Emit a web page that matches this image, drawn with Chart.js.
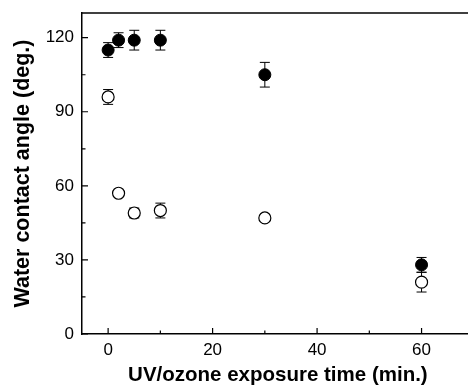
<!DOCTYPE html>
<html>
<head>
<meta charset="utf-8">
<script src="https://cdn.jsdelivr.net/npm/chart.js@4.4.1/dist/chart.umd.min.js"></script>
<style>
  html, body { margin: 0; padding: 0; background: #fff; overflow: hidden; }
  #wrap { width: 468px; height: 388px; overflow: hidden; }
</style>
</head>
<body>
<div id="wrap"><canvas id="c" width="481" height="388"></canvas></div>
<script>
// UV/ozone exposure time (min.)
const times = [0, 2, 5, 10, 30, 60];
// filled circles
const filledAngle = [115, 119, 119, 119, 105, 28];
const filledErr = [3, 3, 4, 4, 5, 3];
// open circles
const openAngle = [96, 57, 49, 50, 47, 21];
const openErr = [3, 0, 2, 3, 0, 4];

const xMajor = [0, 20, 40, 60];
const xMinor = [10, 30, 50];
const yMajor = [0, 30, 60, 90, 120];
const yMinor = [15, 45, 75, 105];

const FONT = "'Liberation Sans', Arial, Helvetica, sans-serif";

// vertical error bars, drawn behind the markers
const errorBars = {
  id: "errorBars",
  beforeDatasetsDraw(chart) {
    const { ctx, scales: { x, y } } = chart;
    ctx.save();
    ctx.strokeStyle = "#000";
    ctx.lineWidth = 1;
    chart.data.datasets.forEach((ds) => {
      ds.data.forEach((p, i) => {
        const e = ds.errors[i];
        if (!e) return;
        const px = x.getPixelForValue(p.x);
        const top = y.getPixelForValue(p.y + e);
        const bot = y.getPixelForValue(p.y - e);
        ctx.beginPath();
        ctx.moveTo(px, top); ctx.lineTo(px, bot);
        ctx.moveTo(px - 5, top); ctx.lineTo(px + 5, top);
        ctx.moveTo(px - 5, bot); ctx.lineTo(px + 5, bot);
        ctx.stroke();
      });
    });
    ctx.restore();
  },
};

// inward tick marks and top frame line
const frame = {
  id: "frame",
  afterDraw(chart) {
    const { ctx, chartArea: a, scales: { x, y } } = chart;
    ctx.save();
    ctx.strokeStyle = "#000";
    ctx.lineWidth = 1.2;
    ctx.beginPath();
    xMajor.forEach((v) => { const p = x.getPixelForValue(v); ctx.moveTo(p, a.bottom); ctx.lineTo(p, a.bottom - 6); });
    xMinor.forEach((v) => { const p = x.getPixelForValue(v); ctx.moveTo(p, a.bottom); ctx.lineTo(p, a.bottom - 3.5); });
    yMajor.forEach((v) => { const p = y.getPixelForValue(v); ctx.moveTo(a.left, p); ctx.lineTo(a.left + 6, p); });
    yMinor.forEach((v) => { const p = y.getPixelForValue(v); ctx.moveTo(a.left, p); ctx.lineTo(a.left + 3.5, p); });
    ctx.stroke();
    ctx.lineWidth = 1.5;
    ctx.beginPath();
    ctx.moveTo(a.left, a.top);
    ctx.lineTo(a.right, a.top);
    ctx.stroke();
    ctx.restore();
  },
};

new Chart(document.getElementById("c"), {
  type: "scatter",
  data: {
    datasets: [
      {
        label: "filled",
        data: times.map((t, i) => ({ x: t, y: filledAngle[i] })),
        errors: filledErr,
        pointRadius: 6,
        pointHoverRadius: 6,
        pointBackgroundColor: "#000",
        pointBorderColor: "#000",
        pointBorderWidth: 1,
      },
      {
        label: "open",
        data: times.map((t, i) => ({ x: t, y: openAngle[i] })),
        errors: openErr,
        pointRadius: 6,
        pointHoverRadius: 6,
        pointBackgroundColor: "#fff",
        pointBorderColor: "#000",
        pointBorderWidth: 1.2,
      },
    ],
  },
  options: {
    responsive: false,
    animation: false,
    devicePixelRatio: 1,
    layout: { padding: { top: 13, left: 0, right: 0, bottom: 0 } },
    plugins: { legend: { display: false }, tooltip: { enabled: false } },
    scales: {
      x: {
        type: "linear",
        min: -5,
        max: 70,
        afterBuildTicks: (s) => { s.ticks = xMajor.map((v) => ({ value: v })); },
        afterFit: (s) => { s.height = 54; s.paddingLeft = 0; s.paddingRight = 0; },
        grid: { display: false, drawTicks: false },
        border: { display: true, color: "#000", width: 1.5 },
        ticks: { color: "#000", padding: 6, font: { family: FONT, size: 17 } },
        title: {
          display: true,
          text: "UV/ozone exposure time (min.)",
          color: "#000",
          padding: { top: 0, bottom: 0 },
          font: { family: FONT, size: 20.5, weight: "bold" },
        },
      },
      y: {
        min: 0,
        max: 130,
        afterBuildTicks: (s) => { s.ticks = yMajor.map((v) => ({ value: v })); },
        afterFit: (s) => { s.width = 82; s.paddingTop = 0; s.paddingBottom = 0; },
        grid: { display: false, drawTicks: false },
        border: { display: true, color: "#000", width: 1.5 },
        ticks: { color: "#000", padding: 8, font: { family: FONT, size: 17 } },
        title: {
          display: true,
          text: "Water contact angle (deg.)",
          color: "#000",
          padding: { top: 10, bottom: 0 },
          font: { family: FONT, size: 21.5, weight: "bold" },
        },
      },
    },
  },
  plugins: [errorBars, frame],
});
</script>
</body>
</html>
